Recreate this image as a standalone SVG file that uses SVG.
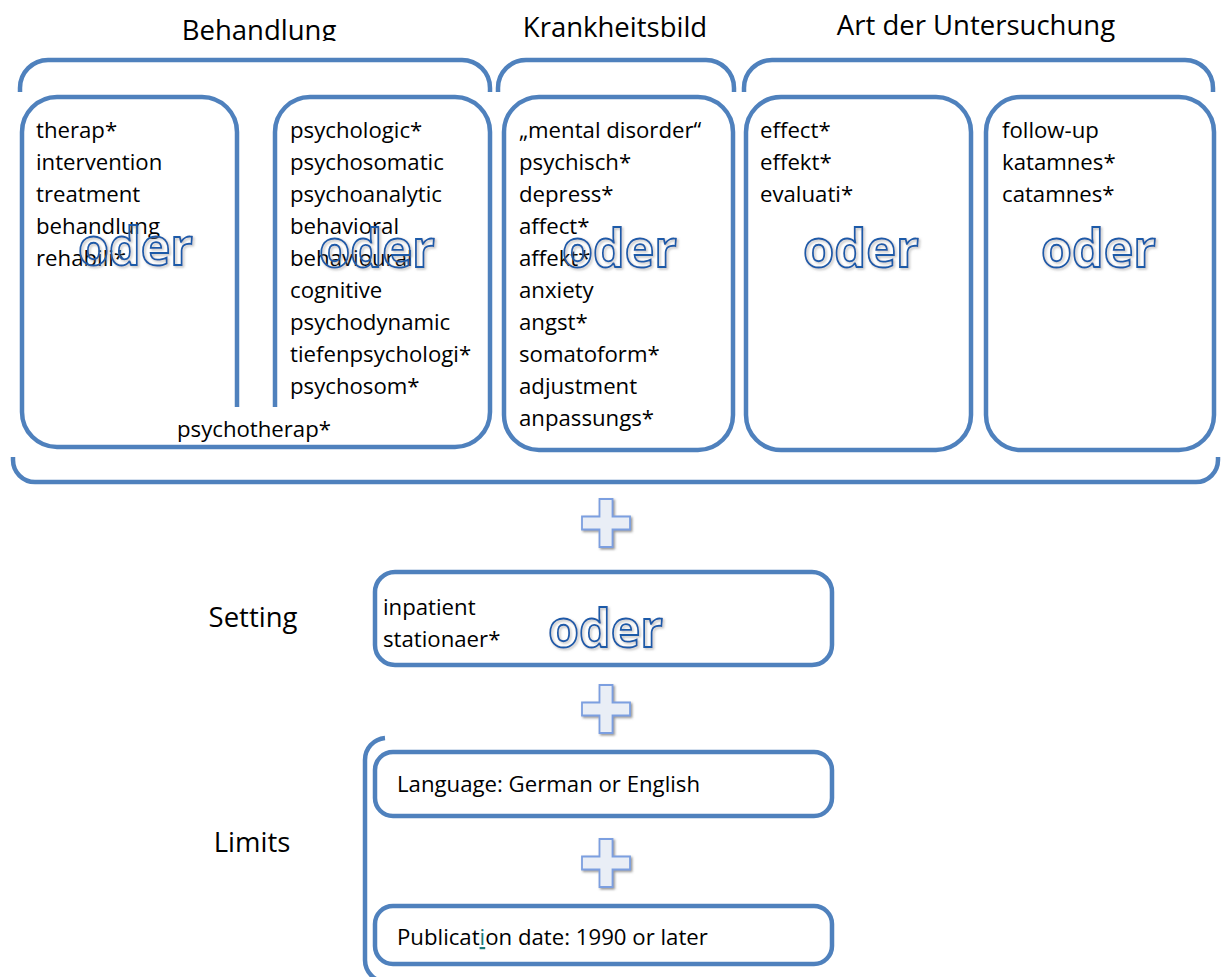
<svg xmlns="http://www.w3.org/2000/svg" width="1222" height="977" viewBox="0 0 1222 977">
<defs>
<style>
.box{fill:none;stroke:#4F81BD;stroke-width:4.5;stroke-linecap:butt}
.t{font-family:"Open Sans","Noto Sans",sans-serif;font-size:22.2px;fill:#000}
.h{font-family:"Open Sans","Noto Sans",sans-serif;font-size:27.5px;fill:#000}
.oder{font-family:"Open Sans","Noto Sans",sans-serif;font-weight:bold;font-size:52px;fill:none;stroke:#1F5AA8;stroke-width:1.8;filter:url(#sh)}
.plus{fill:#E9EEF6;stroke:#7C9FE0;stroke-width:1.8;filter:url(#sh2)}
</style>
<filter id="sh" x="-10%" y="-10%" width="130%" height="130%">
<feDropShadow dx="1.5" dy="1.5" stdDeviation="1" flood-color="#8a8a8a" flood-opacity="0.6"/>
</filter>
<filter id="sh2" x="-20%" y="-20%" width="150%" height="150%">
<feDropShadow dx="1.5" dy="1.5" stdDeviation="1" flood-color="#7a7a7a" flood-opacity="0.8"/>
</filter>
<clipPath id="clipB"><rect x="0" y="0" width="500" height="41"/></clipPath>
<path id="plusShape" d="M-6.5,-24 H6.5 V-6.5 H24 V6.5 H6.5 V24 H-6.5 V6.5 H-24 V-6.5 H-6.5 Z"/>
</defs>
<rect width="1222" height="977" fill="#fff"/>

<g id="headings">
<text class="h" x="259" y="40" text-anchor="middle" clip-path="url(#clipB)">Behandlung</text>
<text class="h" x="615" y="37" text-anchor="middle">Krankheitsbild</text>
<text class="h" x="976" y="35" text-anchor="middle">Art der Untersuchung</text>
<text class="h" x="253" y="627" text-anchor="middle">Setting</text>
<text class="h" x="252" y="852" text-anchor="middle">Limits</text>
</g>

<g id="connectors">
<path class="box" d="M20,92 V88 A28,28 0 0 1 48,60 H462 A28,28 0 0 1 490,88 V92"/>
<path class="box" d="M498,92 V88 A28,28 0 0 1 526,60 H706 A28,28 0 0 1 734,88 V92"/>
<path class="box" d="M744,92 V88 A28,28 0 0 1 772,60 H1185 A28,28 0 0 1 1213,88 V92"/>
<path class="box" d="M13,457 V460 A22,22 0 0 0 35,482 H1196 A22,22 0 0 0 1218,460 V457"/>
<path class="box" d="M385,738 A22,22 0 0 0 365,760 V960 A22,22 0 0 0 387,982"/>
<use href="#plusShape" class="plus" transform="translate(606,523)"/>
<use href="#plusShape" class="plus" transform="translate(606,709)"/>
<use href="#plusShape" class="plus" transform="translate(606,863)"/>
</g>

<g id="behandlung">
<path class="box" d="M237,407 V132 A35,35 0 0 0 202,97 H57 A35,35 0 0 0 22,132 V412 A35,35 0 0 0 57,447 H455 A35,35 0 0 0 490,412 V132 A35,35 0 0 0 455,97 H310 A35,35 0 0 0 275,132 V407"/>
<text class="t" x="36" y="138">therap*</text>
<text class="t" x="36" y="170">intervention</text>
<text class="t" x="36" y="202">treatment</text>
<text class="t" x="36" y="234">behandlung</text>
<text class="t" x="36" y="266">rehabili*</text>
<text class="t" x="290" y="138">psychologic*</text>
<text class="t" x="290" y="170">psychosomatic</text>
<text class="t" x="290" y="202">psychoanalytic</text>
<text class="t" x="290" y="234">behavioral</text>
<text class="t" x="290" y="266">behavioural</text>
<text class="t" x="290" y="298">cognitive</text>
<text class="t" x="290" y="330">psychodynamic</text>
<text class="t" x="290" y="362">tiefenpsychologi*</text>
<text class="t" x="290" y="394">psychosom*</text>
<text class="t" x="254" y="437" text-anchor="middle">psychotherap*</text>
<text class="oder" x="135.5" y="265" text-anchor="middle" textLength="115" lengthAdjust="spacingAndGlyphs">oder</text>
<text class="oder" x="377" y="267" text-anchor="middle" textLength="116" lengthAdjust="spacingAndGlyphs">oder</text>
</g>

<g id="krankheitsbild">
<rect class="box" x="504" y="97" width="229" height="353" rx="35" ry="35"/>
<text class="t" x="519" y="138">„mental disorder“</text>
<text class="t" x="519" y="170">psychisch*</text>
<text class="t" x="519" y="202">depress*</text>
<text class="t" x="519" y="234">affect*</text>
<text class="t" x="519" y="266">affekt*</text>
<text class="t" x="519" y="298">anxiety</text>
<text class="t" x="519" y="330">angst*</text>
<text class="t" x="519" y="362">somatoform*</text>
<text class="t" x="519" y="394">adjustment</text>
<text class="t" x="519" y="426">anpassungs*</text>
<text class="oder" x="619.5" y="267" text-anchor="middle" textLength="115" lengthAdjust="spacingAndGlyphs">oder</text>
</g>

<g id="art-effekt">
<rect class="box" x="746" y="97" width="225" height="353" rx="35" ry="35"/>
<text class="t" x="760" y="138">effect*</text>
<text class="t" x="760" y="170">effekt*</text>
<text class="t" x="760" y="202">evaluati*</text>
<text class="oder" x="861" y="267" text-anchor="middle" textLength="116" lengthAdjust="spacingAndGlyphs">oder</text>
</g>

<g id="art-followup">
<rect class="box" x="986" y="97" width="228" height="353" rx="35" ry="35"/>
<text class="t" x="1002" y="138">follow-up</text>
<text class="t" x="1002" y="170">katamnes*</text>
<text class="t" x="1002" y="202">catamnes*</text>
<text class="oder" x="1098.5" y="267" text-anchor="middle" textLength="115" lengthAdjust="spacingAndGlyphs">oder</text>
</g>

<g id="setting">
<rect class="box" x="375" y="572" width="457" height="93" rx="20" ry="20"/>
<text class="t" x="383" y="615">inpatient</text>
<text class="t" x="383" y="647">stationaer*</text>
<text class="oder" x="605.5" y="647" text-anchor="middle" textLength="115" lengthAdjust="spacingAndGlyphs">oder</text>
</g>

<g id="language">
<rect class="box" x="375" y="752" width="457" height="64" rx="18" ry="18"/>
<text class="t" x="397" y="792">Language: German or English</text>
</g>

<g id="publication">
<rect class="box" x="375" y="906" width="457" height="58" rx="18" ry="18"/>
<text class="t" x="397" y="945">Publicat<tspan fill="#1C7A7A" text-decoration="underline">i</tspan>on date: 1990 or later</text>
</g>
</svg>
